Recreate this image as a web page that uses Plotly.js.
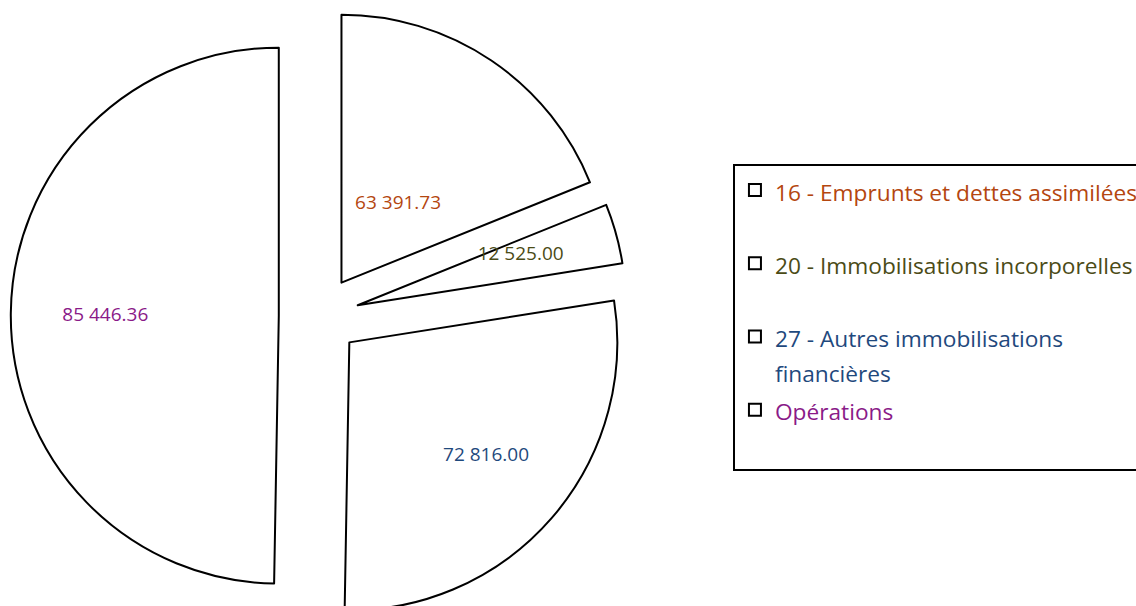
<!DOCTYPE html>
<html>
<head>
<meta charset="utf-8">
<script src="https://cdn.plot.ly/plotly-3.0.1.min.js"></script>
<style>
html, body { margin: 0; padding: 0; overflow: hidden; background: #fff; }
#chart { width: 1136px; height: 632px; }
</style>
</head>
<body>
<div id="chart"></div>
<script>
// Categories (legend entries)
var categories = [
  "16 - Emprunts et dettes assimilées",
  "20 - Immobilisations incorporelles",
  "27 - Autres immobilisations<br>financières",
  "Opérations"
];
// Displayed data-label values
var labelValues = [63391.73, 12525.00, 72816.00, 85446.36];
// Slice sizes as drawn in the picture (angular share, degrees)
var sliceAngles = [68, 13, 100, 179];
// Text colours per category
var textColors = ["#B4460F", "#4B4B16", "#1F497D", "#8A1A88"];

function fmt(v) {
  var parts = v.toFixed(2).split(".");
  parts[0] = parts[0].replace(/\B(?=(\d{3})+(?!\d))/g, " ");
  return parts.join(".");
}
function nb(n) { return new Array(n + 1).join("\u00a0"); }

// invisible padding nudges the data labels to where the reference shows them
var labelPad = [
  { above: 5, lead: 0, trail: 16 },
  { above: 1, lead: 0, trail: 28 },
  { above: 1, lead: 9, trail: 0 },
  { above: 0, lead: 0, trail: 16 }
];
var labelTexts = labelValues.map(function (v, i) {
  var p = labelPad[i];
  var s = nb(p.lead) + fmt(v) + nb(p.trail);
  for (var k = 0; k < p.above; k++) s = "\u00a0<br>" + s;
  return s;
});

// one spacer line keeps the wide gaps between legend entries
var spacers = ["<br>\u00a0", "<br>\u00a0", "", "<br>\u00a0"];
var legendLabels = categories.map(function (c, i) {
  var styled = c.split("<br>").map(function (part) {
    return '<span style="color:' + textColors[i] + ';font-size:22.7px">' + part + '</span>';
  }).join("<br>");
  return styled + spacers[i];
});

var trace = {
  type: "pie",
  labels: legendLabels,
  values: sliceAngles,
  text: labelTexts,
  textinfo: "text",
  textposition: "inside",
  insidetextorientation: "horizontal",
  textfont: { family: "'Open Sans', sans-serif", size: 19, color: textColors },
  sort: false,
  direction: "clockwise",
  rotation: 0,
  pull: [0.15, 0.15, 0.15, 0.15],
  marker: { colors: ["#ffffff", "#ffffff", "#ffffff", "#ffffff"], line: { color: "#000000", width: 2 } },
  domain: { x: [0.0095, 0.5521], y: [0.0123, 0.9877] },
  hoverinfo: "none"
};

var layout = {
  width: 1136,
  height: 632,
  margin: { l: 0, r: 0, t: 0, b: 0, autoexpand: false },
  paper_bgcolor: "#ffffff",
  plot_bgcolor: "#ffffff",
  showlegend: true,
  uniformtext: { minsize: 19, mode: "show" },
  legend: {
    x: 0.6452, xanchor: "left",
    y: 0.7405, yanchor: "top",
    bgcolor: "#ffffff",
    bordercolor: "#000000",
    borderwidth: 2,
    valign: "top",
    font: { family: "'Open Sans', sans-serif", size: 27, color: "#000000" }
  }
};

Plotly.newPlot("chart", [trace], layout, { displayModeBar: false, staticPlot: true });
</script>
</body>
</html>
